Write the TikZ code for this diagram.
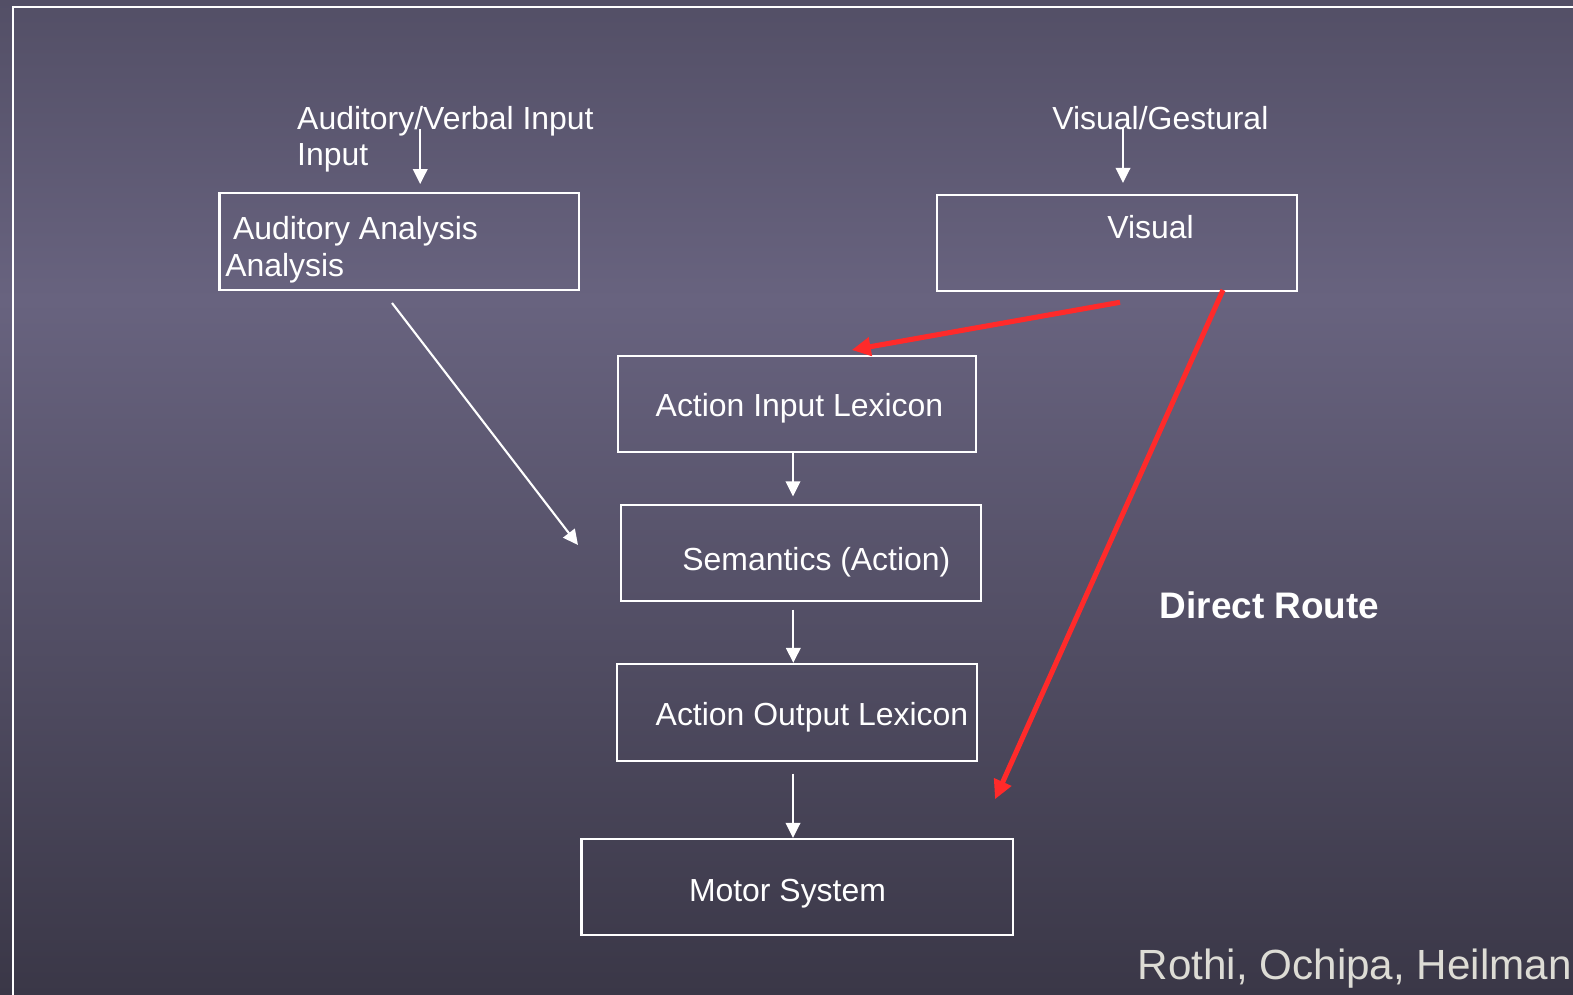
\documentclass[tikz,border=0pt]{standalone}
\usepackage{fontspec}
\setmainfont{Liberation Sans}
\usetikzlibrary{arrows.meta}

\definecolor{bgtop}{RGB}{83,79,102}
\definecolor{bgmid}{RGB}{104,99,127}
\definecolor{bgbot}{RGB}{58,55,71}
\definecolor{routered}{RGB}{255,42,42}
\definecolor{refgray}{RGB}{221,220,213}

\tikzstyle{stage}=[draw=white,line width=0.6pt,inner sep=0pt]
\tikzstyle{lbl}=[text=white,inner sep=0pt,anchor=base west,font=\fontsize{9.08}{11}\selectfont]
\tikzstyle{flow}=[draw=white,line width=0.6pt,-{Triangle[length=0.15cm,width=0.145cm]}]
\tikzstyle{route}=[draw=routered,line width=1.45pt,-{Triangle[length=0.19cm,width=0.18cm]}]

\begin{document}
\begin{tikzpicture}[x=0.01cm,y=-0.01cm]
\useasboundingbox (0,0) rectangle (1573,995);
% slide background
   \shade[top color=bgtop,bottom color=bgmid] (0,0) rectangle (1573,300);
   \shade[top color=bgmid,bottom color=bgbot] (0,300) rectangle (1573,995);
   \draw[white,line width=0.6pt] (1573,7.3) -- (13,7.3) -- (13,995);

% Stages
   \node[stage,minimum width=3.595cm,minimum height=0.973cm] (aud) at (399.3,241.3) {};
   \node[stage,minimum width=3.594cm,minimum height=0.96cm] (vis) at (1117,243) {};
   \node[stage,minimum width=3.58cm,minimum height=0.96cm] (ail) at (797,404) {};
   \node[stage,minimum width=3.60cm,minimum height=0.957cm] (sem) at (800.7,552.8) {};
   \node[stage,minimum width=3.59cm,minimum height=0.967cm] (aol) at (797,712.3) {};
   \node[stage,minimum width=4.313cm,minimum height=0.96cm] (mot) at (797.3,887) {};

   \node[lbl] (audtxt) at (296.5,129.5) {Auditory/Verbal Input};
   \node[lbl] (audtxtb) at (296.5,166) {Input};
   \node[lbl] (audana) at (232.3,239.5) {Auditory Analysis};
   \node[lbl] (audanab) at (224.6,276.5) {Analysis};
   \node[lbl] (vistxt) at (1051.7,129.5) {Visual/Gestural};
   \node[lbl] (visana) at (1106.7,238.5) {Visual};
   \node[lbl] (ailtxt) at (655,416.5) {Action Input Lexicon};
   \node[lbl] (semtxt) at (681.7,571) {Semantics (Action)};
   \node[lbl] (aoltxt) at (655,725.5) {Action Output Lexicon};
   \node[lbl] (mottxt) at (688.3,901) {Motor System};
   \node[lbl,font=\fontsize{10.5}{12}\selectfont\bfseries] (direct) at (1159,618.5) {Direct Route};
   \node[lbl,text=refgray,font=\fontsize{12}{14}\selectfont] (cite) at (1137,979.5) {Rothi, Ochipa, Heilman};

% Connectors
   \coordinate (audsrc) at (420.2,129);
   \coordinate (vissrc) at (1123,128);
   \coordinate (audout) at (392,303);
   \coordinate (semside) at (578,545);
   \coordinate (visout) at (1120,302.3);
   \coordinate (ailin) at (851.7,350);
   \coordinate (visdrop) at (1223,290);
   \coordinate (motin) at (995,799.3);

   \draw[flow,shorten >=0.075cm] (audsrc) -- (audsrc |- aud.north);
   \draw[flow,shorten >=0.11cm] (vissrc) -- (vissrc |- vis.north);
   \draw[flow] (audout) -- (semside);
   \draw[flow,shorten >=0.075cm] ([xshift=-0.04cm]ail.south) -- ([xshift=-0.04cm]ail.south |- sem.north);
   \draw[flow,shorten <=0.08cm] ([xshift=-0.074cm]sem.south) -- ([xshift=-0.074cm]sem.south |- aol.north);
   \draw[flow,shorten <=0.12cm] ([xshift=-0.04cm]aol.south) -- ([xshift=-0.04cm]aol.south |- mot.north);

   \draw[route] (visout) -- (ailin);
   \draw[route] (visdrop) -- (motin);

\end{tikzpicture}
\end{document}
